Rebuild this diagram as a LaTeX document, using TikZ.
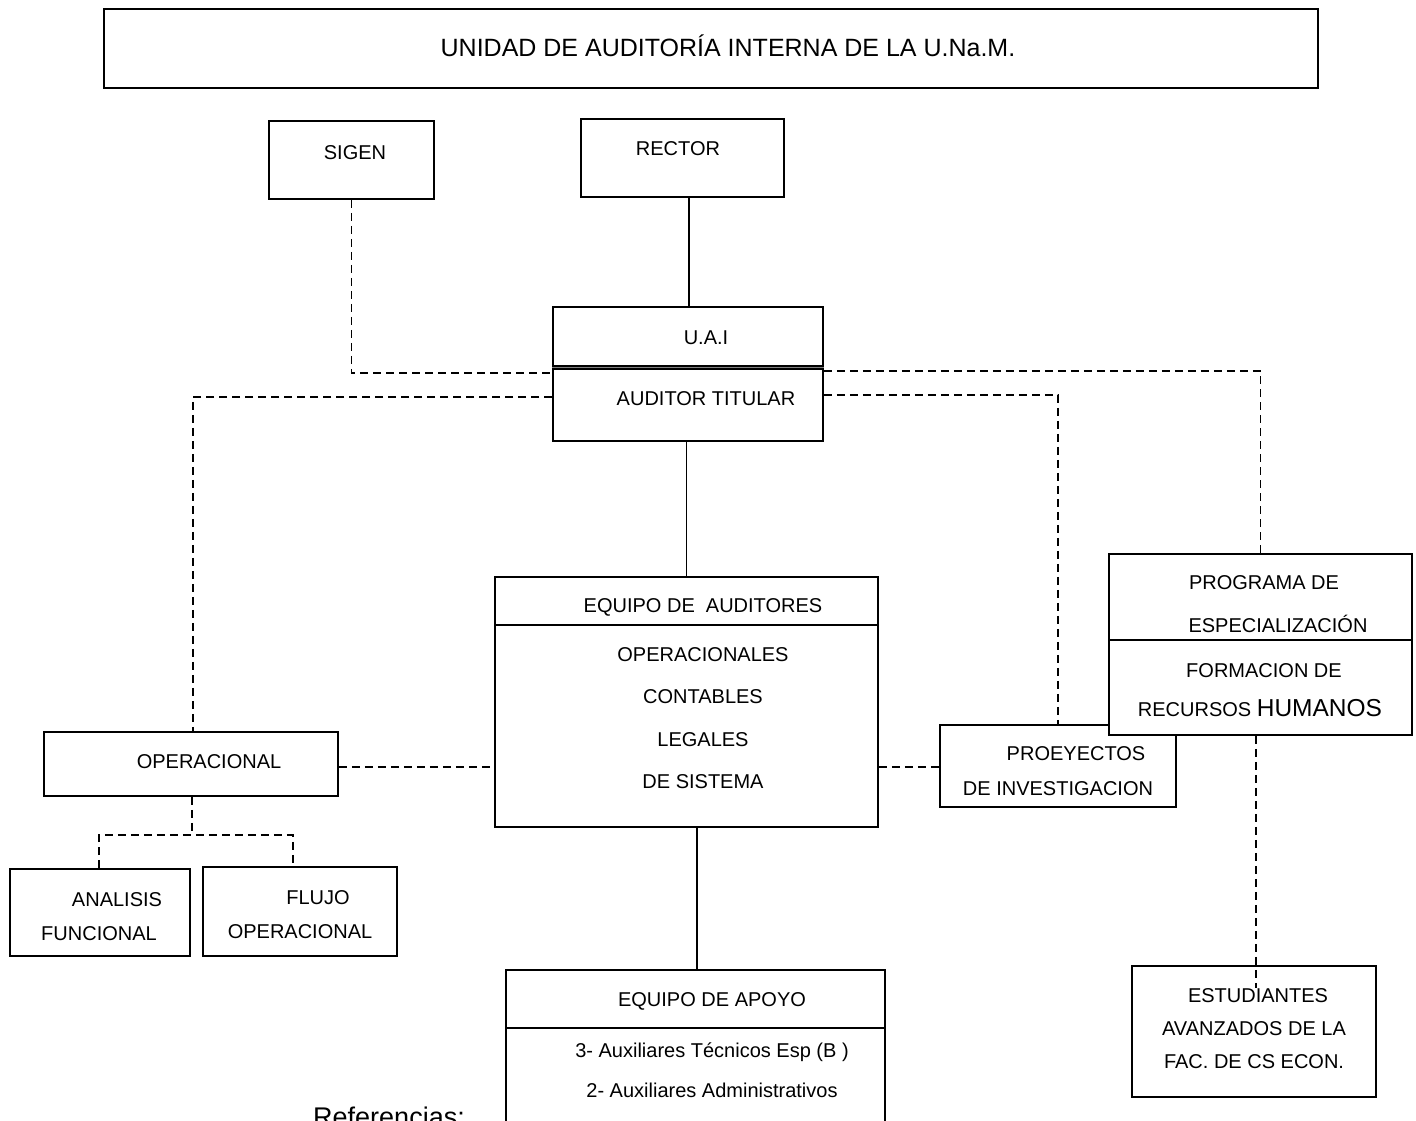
\documentclass[tikz,border=0pt]{standalone}
\usepackage{fontspec}
\setmainfont{Liberation Sans}
\begin{document}
\begin{tikzpicture}[x=1pt,y=-1pt,
  box/.style={draw, line width=1.8pt, fill=white, rectangle, inner sep=0pt},
  sol/.style={line width=1.8pt},
  dsh/.style={line width=1.7pt, dash pattern=on 8pt off 5pt},
  txt/.style={anchor=base, inner sep=0pt, font=\fontsize{20}{24}\selectfont}]
\useasboundingbox (0,0) rectangle (1416,1121);
\clip (0,0) rectangle (1416,1121);

% boxes
\node[box, minimum width=1214, minimum height=79] (title) at (711,48.5) {};
\node[box, minimum width=165, minimum height=78] (sigen) at (351.5,160) {};
\node[box, minimum width=203, minimum height=78] (rector) at (682.5,158) {};
\node[box, minimum width=270, minimum height=59] (uai) at (688,336.5) {};
\node[box, minimum width=270, minimum height=72] (aud) at (688,405) {};
\fill[gray] (uai.south west) rectangle (aud.north east);
\node[box, minimum width=383, minimum height=250] (eq) at (686.5,702) {};
\node[box, minimum width=294, minimum height=64] (oper) at (191,764) {};
\node[box, minimum width=180, minimum height=87] (anal) at (100,912.5) {};
\node[box, minimum width=194, minimum height=89] (flujo) at (300,911.5) {};
\node[box, minimum width=379, minimum height=170] (apoyo) at (695.5,1055) {};
\node[box, minimum width=236, minimum height=82] (proy) at (1058,766) {};
\node[box, minimum width=303, minimum height=181] (prog) at (1260.5,644.5) {};
\node[box, minimum width=244, minimum height=131] (est) at (1254,1031.5) {};

% helper coordinates
\coordinate (yeq) at (0,625);
\coordinate (yap) at (0,1028);
\coordinate (ypg) at (0,640);
\coordinate (xr) at (689,0);
\coordinate (xap) at (697,0);
\coordinate (ys) at (0,373);
\coordinate (yl) at (0,397);
\coordinate (yr1) at (0,371);
\coordinate (yr2) at (0,395);
\coordinate (ym) at (0,767);
\coordinate (xop) at (193,0);
\coordinate (bm) at (192,835);
\coordinate (bl) at (99,835);
\coordinate (br) at (293,835);
\coordinate (xes) at (1256,0);
\coordinate (estend) at (1256,988);

% dividers
\draw[sol] (eq.west |- yeq) -- (eq.east |- yeq);
\draw[sol] (apoyo.west |- yap) -- (apoyo.east |- yap);
\draw[sol] (prog.west |- ypg) -- (prog.east |- ypg);

% solid connectors
\draw[sol] (rector.south -| xr) -- (uai.north -| xr);
\draw[sol] (aud.south -| eq.north) -- (eq.north);
\draw[sol] (eq.south -| xap) -- (apoyo.north -| xap);

% dashed connectors
\draw[dsh] (sigen.south) |- (aud.west |- ys);
\draw[dsh] (aud.west |- yl) -| (oper.north -| xop);
\draw[dsh] (aud.east |- yr1) -| (prog.north);
\draw[dsh] (aud.east |- yr2) -| (proy.north);
\draw[dsh] (oper.east |- ym) -- (eq.west |- ym);
\draw[dsh] (eq.east |- ym) -- (proy.west |- ym);
\draw[dsh] (oper.south -| bm) -- (bm);
\draw[dsh] (anal.north -| bl) -- (bl) -- (br) -- (flujo.north -| br);
\draw[dsh] (prog.south -| xes) -- (estend);

% texts
\node[txt, font=\fontsize{25}{30}\selectfont] (t1) at (728,57) {UNIDAD DE AUDITORÍA INTERNA DE LA U.Na.M.};
\node[txt] (t2) at (355,159) {SIGEN};
\node[txt] (t3) at (678,155) {RECTOR};
\node[txt] (t4) at (706,344) {U.A.I};
\node[txt] (t5) at (706,405) {AUDITOR TITULAR};
\node[txt] (t6) at (703,612) {EQUIPO DE~~AUDITORES};
\node[txt] (t7) at (703,661) {OPERACIONALES};
\node[txt] (t8) at (703,703) {CONTABLES};
\node[txt] (t9) at (703,746) {LEGALES};
\node[txt] (t10) at (703,788) {DE SISTEMA};
\node[txt] (t11) at (209,768) {OPERACIONAL};
\node[txt] (t12) at (117,906) {ANALISIS};
\node[txt] (t13) at (99,940) {FUNCIONAL};
\node[txt] (t14) at (318,904) {FLUJO};
\node[txt] (t15) at (300,938) {OPERACIONAL};
\node[txt] (t16) at (712,1006) {EQUIPO DE APOYO};
\node[txt] (t17) at (712,1057) {3- Auxiliares Técnicos Esp (B )};
\node[txt] (t18) at (712,1097) {2- Auxiliares Administrativos};
\node[txt] (t19) at (1076,760) {PROEYECTOS};
\node[txt] (t20) at (1058,795) {DE INVESTIGACION};
\node[txt] (t21) at (1264,589) {PROGRAMA DE};
\node[txt] (t22) at (1278,632) {ESPECIALIZACIÓN};
\node[txt] (t23) at (1264,677) {FORMACION DE};
\node[txt] (t24) at (1260,716) {RECURSOS {\fontsize{24.5}{28}\selectfont HUMANOS}};
\node[txt] (t25) at (1258,1002) {ESTUDIANTES};
\node[txt] (t26) at (1254,1035) {AVANZADOS DE LA};
\node[txt] (t27) at (1254,1068) {FAC. DE CS ECON.};
\node[txt, font=\fontsize{27}{32}\selectfont] (t28) at (389,1126) {Referencias:};
\end{tikzpicture}
\end{document}
